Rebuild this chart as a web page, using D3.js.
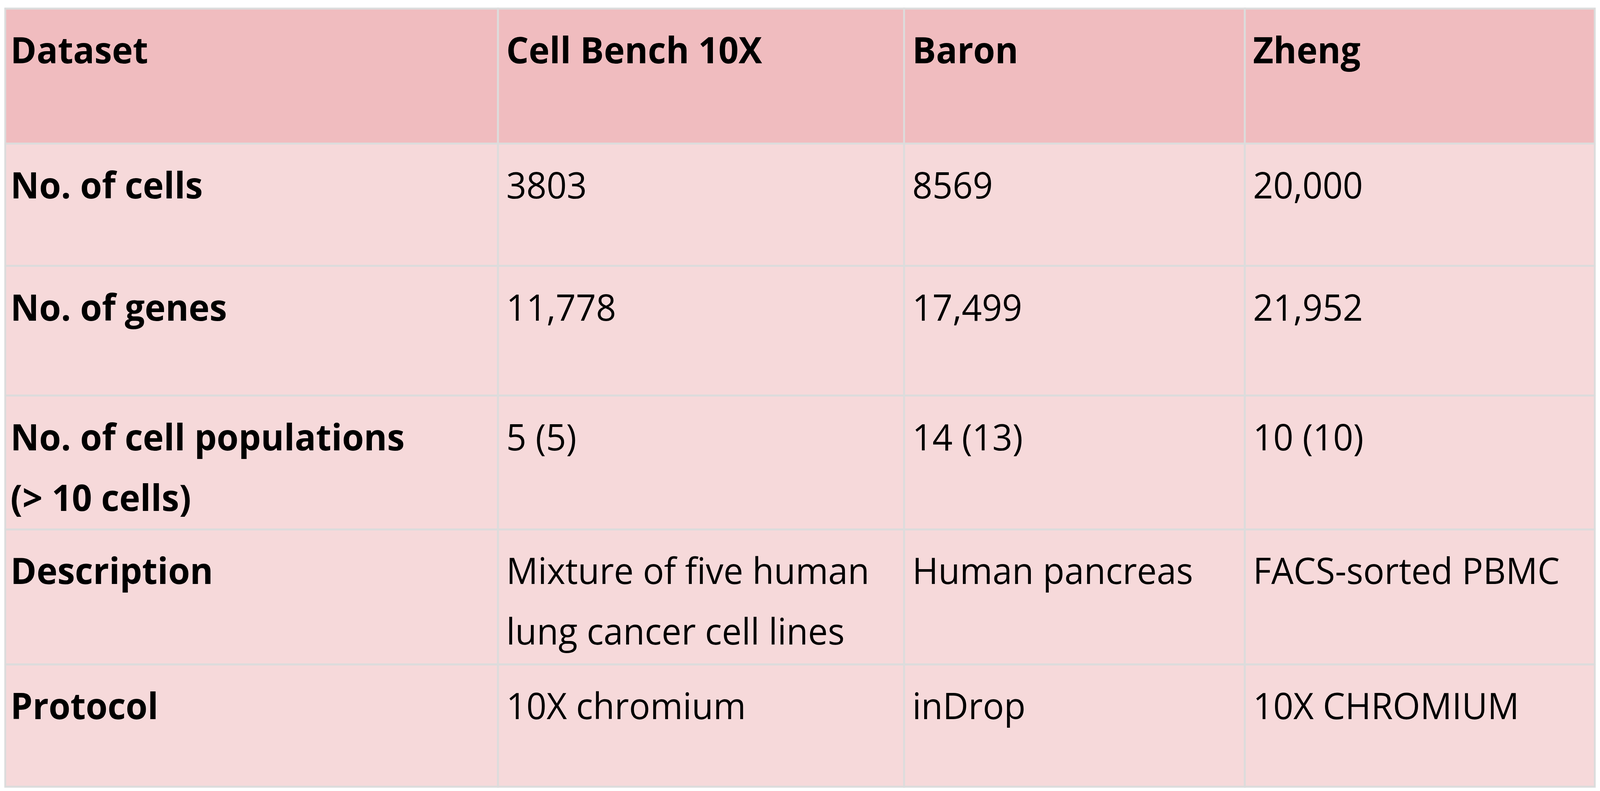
<!DOCTYPE html>
<html><head><meta charset="utf-8">
<script src="https://cdn.jsdelivr.net/npm/d3@7"></script>
<style>html,body{margin:0;padding:0;overflow:hidden;background:#fff}svg{display:block;width:100vw;height:100vh}</style>
</head><body><div id="chart"></div>
<script>
const columns = ["Dataset", "Cell Bench 10X", "Baron", "Zheng"];
const rowLabels = [["No. of cells"], ["No. of genes"], ["No. of cell populations", "(> 10 cells)"], ["Description"], ["Protocol"]];
const cellBench = [["3803"], ["11,778"], ["5 (5)"], ["Mixture of five human", "lung cancer cell lines"], ["10X chromium"]];
const baron = [["8569"], ["17,499"], ["14 (13)"], ["Human pancreas"], ["inDrop"]];
const zheng = [["20,000"], ["21,952"], ["10 (10)"], ["FACS-sorted PBMC"], ["10X CHROMIUM"]];
// relative column widths and row heights
const colWidths = [483, 398, 334, 343];
const rowHeights = [127, 115, 122, 126, 127, 115];

const width = 4267, height = 2025;
const margin = {top: 22, left: 14, right: 14, bottom: 11};
const fontFamily = "'Open Sans', 'DejaVu Sans', sans-serif";
const fontSize = 94, lineH = 155;

const colEdges = d3.cumsum([0, ...colWidths]);
const rowEdges = d3.cumsum([0, ...rowHeights]);
const x = d3.scaleLinear().domain([0, colEdges[colEdges.length - 1]]).range([margin.left, width - margin.right]);
const y = d3.scaleLinear().domain([0, rowEdges[rowEdges.length - 1]]).range([margin.top, height - margin.bottom]);

const table = [columns.map(c => [c])].concat(rowLabels.map((r, i) => [r, cellBench[i], baron[i], zheng[i]]));

const svg = d3.select("#chart").append("svg")
  .attr("viewBox", `0 0 ${width} ${height}`)
  .attr("preserveAspectRatio", "none");

const cells = [];
table.forEach((row, ri) => row.forEach((lines, ci) => cells.push({ri, ci, lines})));

svg.selectAll("rect.cell").data(cells).enter().append("rect")
  .attr("class", "cell")
  .attr("x", d => x(colEdges[d.ci]))
  .attr("y", d => y(rowEdges[d.ri]))
  .attr("width", d => x(colEdges[d.ci + 1]) - x(colEdges[d.ci]))
  .attr("height", d => y(rowEdges[d.ri + 1]) - y(rowEdges[d.ri]))
  .attr("fill", d => d.ri === 0 ? "#f0bcbf" : "#f6d9da")
  .attr("stroke", "#dcdcdc")
  .attr("stroke-width", 5);

const padX = d => x(colEdges[d.ci]) + (d.ci === 0 ? 14 : 22);

svg.selectAll("text.cell").data(cells).enter().append("text")
  .attr("class", "cell")
  .attr("x", padX)
  .attr("y", d => y(rowEdges[d.ri]) + 140)
  .attr("font-family", fontFamily)
  .attr("font-size", fontSize)
  .attr("font-weight", d => (d.ri === 0 || d.ci === 0) ? 700 : 400)
  .attr("fill", "#000")
  .each(function(d) {
    d3.select(this).selectAll("tspan").data(d.lines).enter().append("tspan")
      .attr("x", padX(d))
      .attr("dy", (l, i) => i === 0 ? 0 : lineH)
      .text(l => l);
  });
</script></body></html>
